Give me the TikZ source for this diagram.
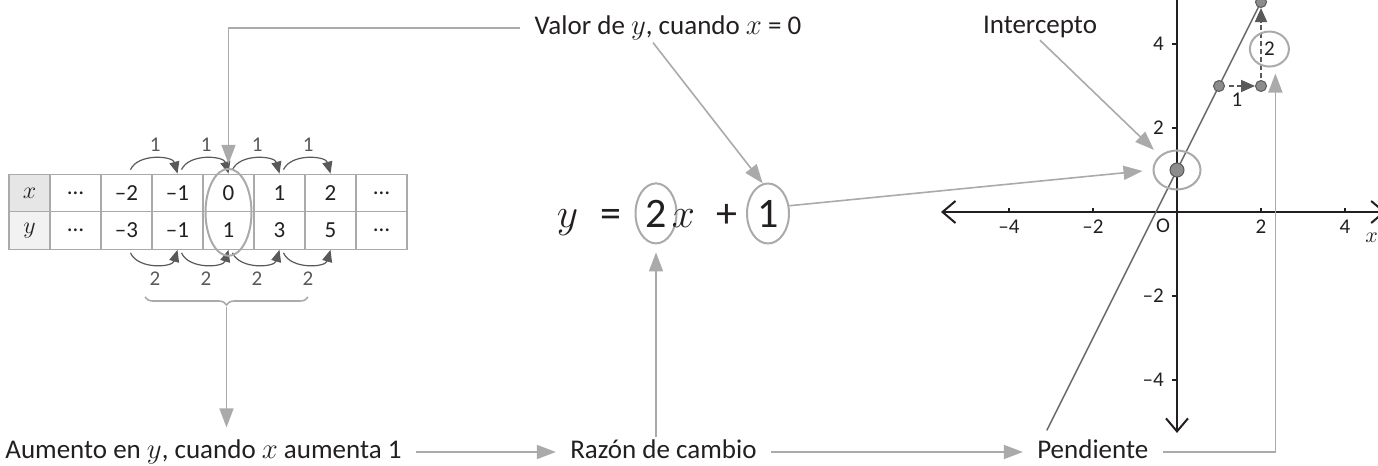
\documentclass[tikz,border=0pt]{standalone}
\usepackage{fontspec}
\setmainfont{Carlito}
\usetikzlibrary{arrows.meta, shapes.geometric, positioning, decorations.pathreplacing, calc}
\definecolor{InkBlack}{RGB}{35,31,32}
\definecolor{LineGray}{RGB}{170,170,170}
\definecolor{ArcGray}{RGB}{89,89,89}
\definecolor{HeadGray}{RGB}{230,230,230}
\definecolor{DotGray}{RGB}{140,140,140}

\begin{document}
\begin{tikzpicture}[x=0.5pt, y=-0.5pt, text=InkBlack,
  conn/.style={LineGray, line width=0.8pt, -{Triangle[length=9.5pt,width=7pt]}},
  ring/.style={ellipse, draw=LineGray, line width=1pt, inner sep=0pt},
  lbl/.style={inner xsep=7pt, inner ysep=1pt, font=\fontsize{13.5}{16}\selectfont},
  cell/.style={draw=LineGray, line width=0.6pt, minimum width=25.5pt, minimum height=18.75pt,
               inner sep=0pt, font=\fontsize{11.5}{13}\selectfont},
  hop/.style={ArcGray, line width=0.6pt, -{Triangle[length=6pt,width=5pt]}},
  numlbl/.style={font=\fontsize{10.5}{12}\selectfont},
  eq/.style={inner sep=0pt, font=\fontsize{21}{25}\selectfont},
  axis/.style={InkBlack, line width=1pt},
  barb/.tip={Straight Barb[length=6.5pt,width=11pt]},
  dot/.style={circle, fill=DotGray, draw=ArcGray, line width=0.5pt, inner sep=0pt, minimum size=5.5pt},
  dasharr/.style={ArcGray, line width=0.8pt, dash pattern=on 2.5pt off 1.5pt,
                  -{Triangle[length=7pt,width=6pt]}}]
  \path[use as bounding box] (0,0) rectangle (1378,466);
  \clip (0,0) rectangle (1378,466);

  % Table of values
  \node[cell, minimum width=20.5pt, fill=HeadGray] (x0) at (29.5,193) {$x$};
  \node[cell, minimum width=20.5pt, fill=HeadGray!50] (y0) at (29.5,230.5) {$y$};
  \foreach \xv/\yv [count=\i] in {…/…, –2/–3, –1/–1, 0/1, 1/3, 2/5, …/…}
  {
    \node[cell] (x\i) at (24.5+51*\i,193) {\xv};
    \node[cell] (y\i) at (24.5+51*\i,230.5) {\yv};
  }
  \foreach \a/\b in {2/3, 3/4, 4/5, 5/6}
  {
    \draw[hop] ([xshift=2pt,yshift=2pt]x\a.north) to[bend left=70]
          node[numlbl, above] {1} (x\b.north);
    \draw[hop] ([xshift=2pt,yshift=-1.5pt]y\a.south) to[bend right=70]
          node[numlbl, below] {2} (y\b.south);
  }
  \node[ring, minimum width=23pt, minimum height=43.5pt] (e0) at (x4.south) {};
  % brace under the differences
  \draw[LineGray, line width=0.8pt, decorate, decoration={brace, mirror, amplitude=4pt}]
        (145,297) -- (308,297);
  \coordinate (brtip) at (226.5,307);

  % Labels
  \node[lbl] (valor) at (668,28) {Valor de $y$, cuando $x$ = 0};
  \node[lbl] (icp) at (1040,27) {Intercepto};
  \node[lbl, anchor=west] (am) at (-9,452) {Aumento en $y$, cuando $x$ aumenta 1};
  \node[lbl, base right=70pt of am] (rc) {Razón de cambio};
  \node[lbl, base right=126pt of rc] (pd) {Pendiente};

  % Equation
  \node[eq, anchor=base] (ey) at (567.5,227) {$y$};
  \node[eq, anchor=base] (eeq) at (611,227) {=};
  \node[eq, ring, anchor=base, minimum width=20.5pt, minimum height=30pt] (e2) at (656,227) {2};
  \node[eq, anchor=base] (ex) at (683.5,227) {$x$};
  \node[eq, anchor=base] (eplus) at (726.5,227) {+};
  \node[eq, ring, anchor=base, minimum width=21pt, minimum height=30pt] (e1) at (768,227) {1};

  % Graph of y = 2x + 1
  \begin{scope}[shift={(1177,212)}, x=21pt, y=21pt]
    \draw[axis, barb-barb] (-5.62,0) -- (4.97,0);
    \draw[axis, barb-] (0,-5.26) -- (0,5.3);
    \foreach \t/\s in {-4/–4, -2/–2, 2/2, 4/4}
    {
      \draw[axis] (\t,0) -- (\t,0.1);
      \draw[axis] (-0.12,\t) -- (0,\t);
      \node[numlbl, below=0.5pt] (xl\t) at (\t,0) {\s};
      \node[numlbl, left=1pt] (yl\t) at (-0.1,\t) {\s};
    }
    \node[numlbl, below left] (orig) at (0,0) {O};
    \node[numlbl, anchor=east, inner xsep=0pt] (xlab) at (4.79,-0.62) {$x$};
    \draw[black!60, line width=0.7pt] (-3.1,-5.2) -- (2,5);
    \node[ring, minimum width=23.5pt, minimum height=19.5pt] (ie) at (0,1) {};
    \node[dot, minimum size=7pt] (p01) at (0,1) {};
    \node[dot] (p13) at (1,3) {};
    \node[dot] (p23) at (2,3) {};
    \node[dot] (p25) at (2,5) {};
    \draw[dasharr, shorten <=2pt] (p13) -- (p23);
    \draw[dasharr, shorten <=1pt] (p23) -- (p25);
    \node[numlbl] (runl) at (1.43,2.67) {1};
    \node[ring, numlbl, minimum width=19.5pt, minimum height=17.5pt] (e2g) at (2.2,3.88) {2};
  \end{scope}

  % Connectors
  \draw[conn] (valor.west) -| ([yshift=2pt]e0.north);
  \draw[conn] ([xshift=-7.5pt]valor.south) -- (e1.100);
  \draw[conn, shorten >=4pt] (icp.south) -- (ie.140);
  \draw[conn, shorten >=5pt] (e1.20) -- (ie.west);
  \draw[conn, shorten >=5pt] (brtip) -- (brtip |- am.north);
  \draw[conn] (rc.north -| e2.south) -- ([yshift=-4pt]e2.south);
  \draw[conn] (am.east) -- (am.east -| rc.west);
  \draw[conn] (rc.east |- am.east) -- (pd.west |- am.east);
  \draw[conn] (pd.east |- am.east) -| ([xshift=3pt,yshift=-3pt]e2g.south);
\end{tikzpicture}
\end{document}
